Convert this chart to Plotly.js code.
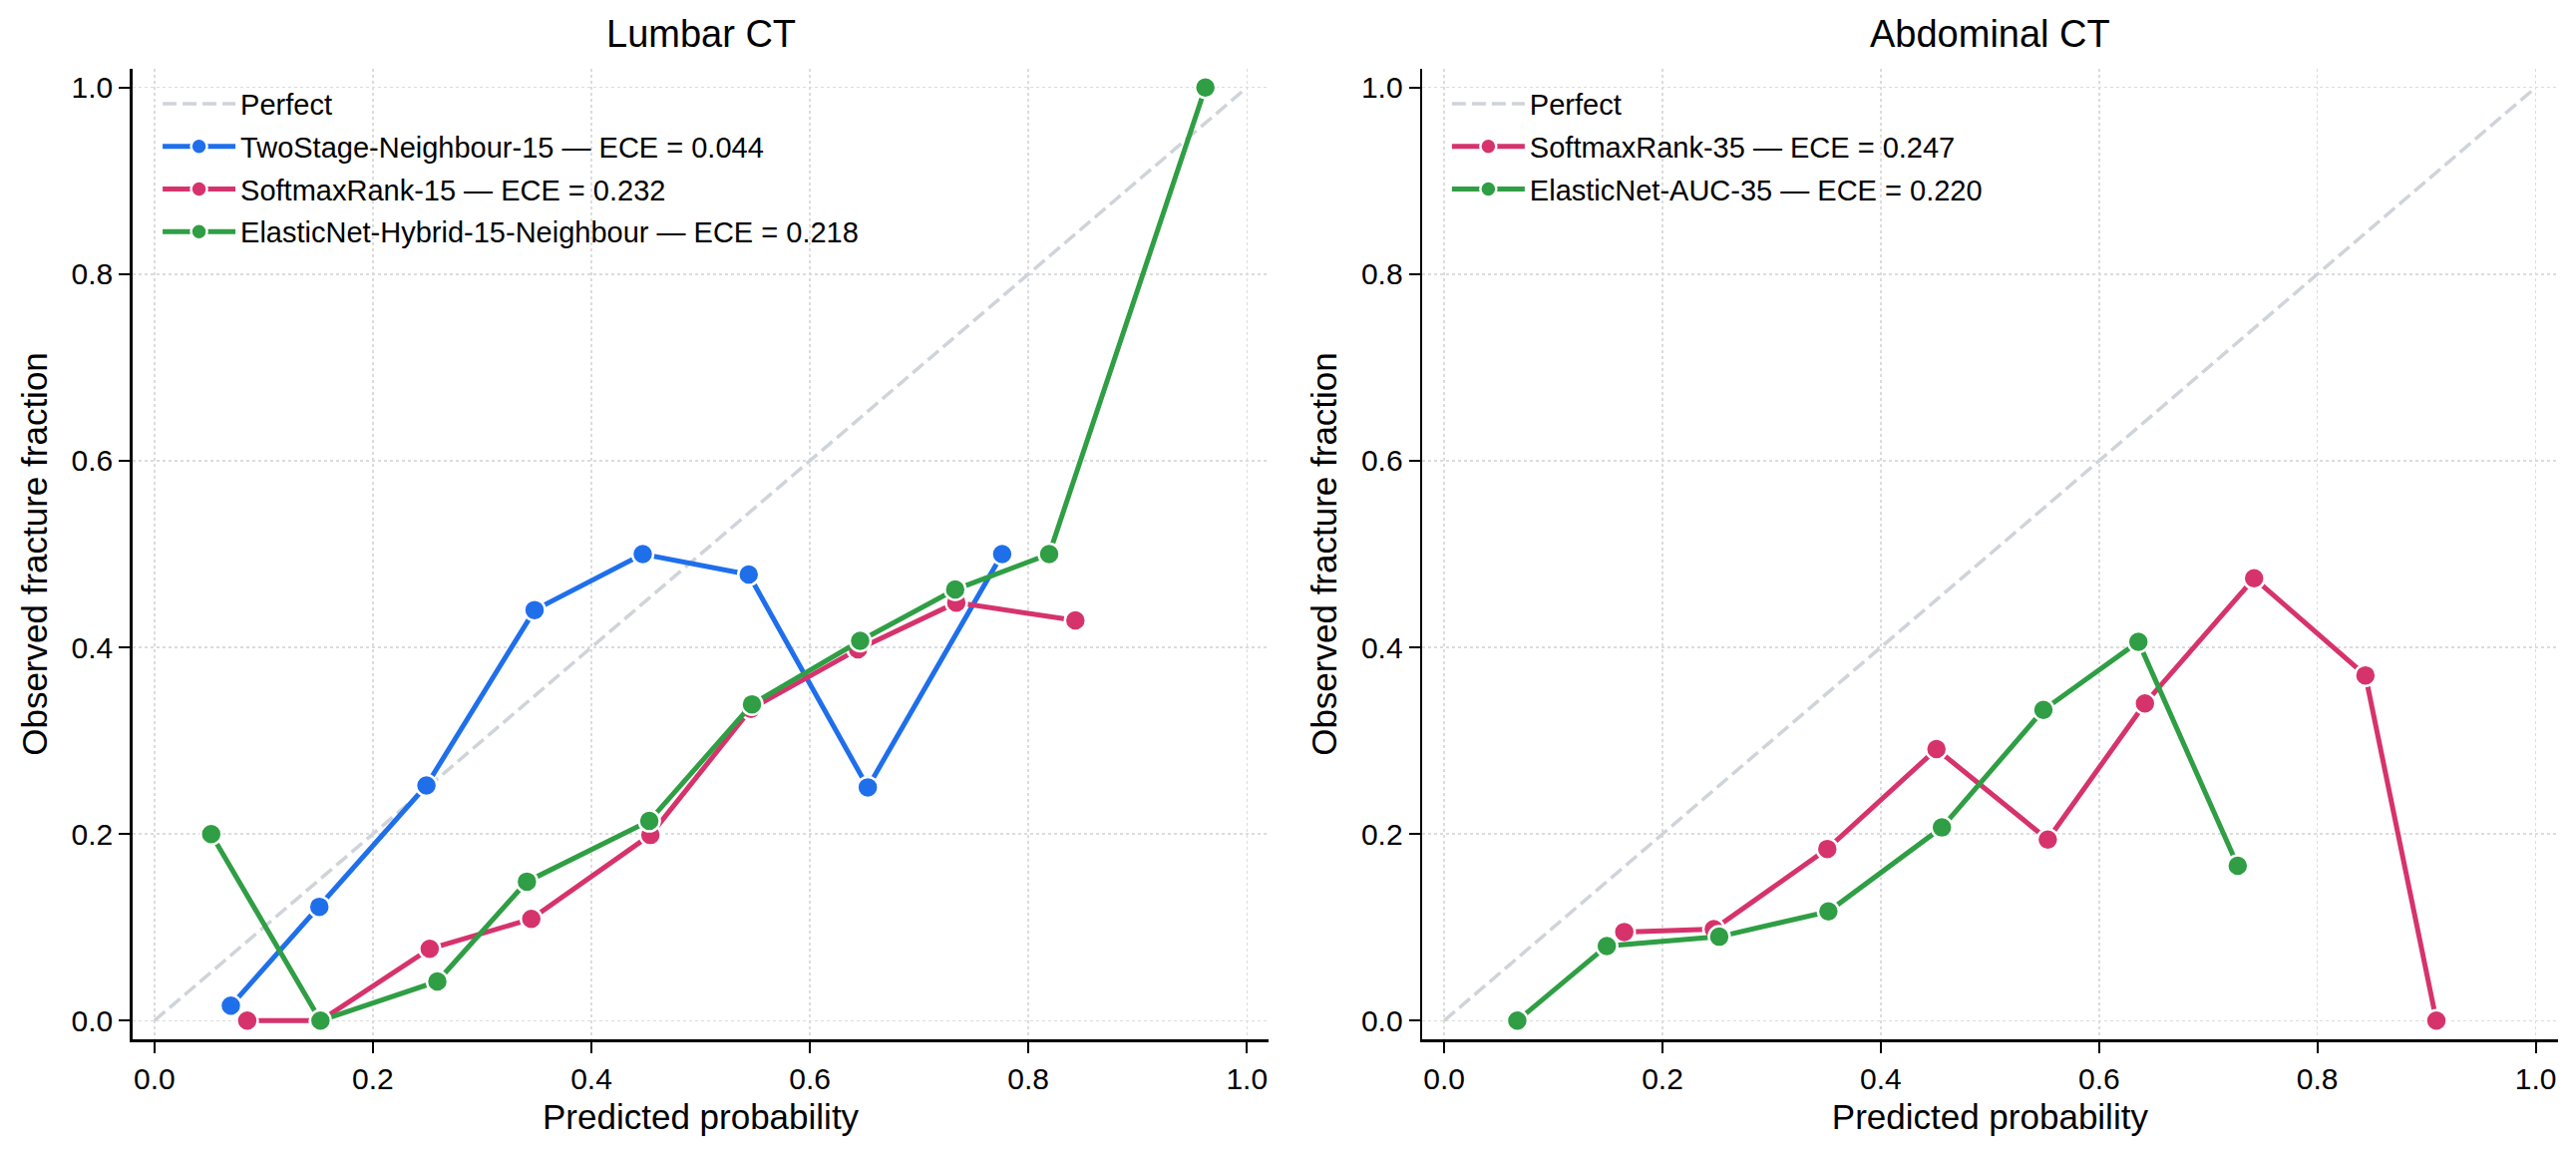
<!DOCTYPE html>
<html>
<head>
<meta charset="utf-8">
<script src="https://cdn.plot.ly/plotly-3.0.1.min.js"></script>
<style>
  html, body { margin: 0; padding: 0; background: #fff; }
  #chart { width: 2583px; height: 1161px; }
</style>
</head>
<body>
<div id="chart"></div>
<script>
// Lumbar CT bins
var twoStageX = [0.070, 0.151, 0.249, 0.348, 0.447, 0.544, 0.653, 0.776];
var twoStageY = [0.016, 0.122, 0.252, 0.440, 0.500, 0.478, 0.250, 0.500];
var softmax15X = [0.085, 0.152, 0.252, 0.345, 0.454, 0.546, 0.644, 0.734, 0.843];
var softmax15Y = [0.000, 0.000, 0.077, 0.109, 0.199, 0.334, 0.398, 0.448, 0.429];
var hybridX = [0.052, 0.152, 0.259, 0.341, 0.453, 0.547, 0.646, 0.733, 0.819, 0.962];
var hybridY = [0.200, 0.000, 0.042, 0.149, 0.214, 0.339, 0.407, 0.462, 0.500, 1.000];

// Abdominal CT bins
var softmax35X = [0.165, 0.247, 0.351, 0.451, 0.553, 0.642, 0.742, 0.844, 0.909];
var softmax35Y = [0.095, 0.098, 0.184, 0.291, 0.194, 0.340, 0.474, 0.370, 0.000];
var aucX = [0.067, 0.149, 0.252, 0.352, 0.456, 0.549, 0.636, 0.727];
var aucY = [0.000, 0.080, 0.090, 0.117, 0.207, 0.333, 0.406, 0.166];

var perfect = [0, 1];
var ticks = [0, 0.2, 0.4, 0.6, 0.8, 1.0];

var BLUE = '#1f6feb';
var RED = '#d6336c';
var GREEN = '#2f9e44';
var GREY = '#cfd4da';
var FONT = 'Liberation Sans, Arial, Helvetica, sans-serif';

function curve(x, y, name, color, xa, ya, leg) {
  return {
    x: x, y: y, name: name, type: 'scatter', mode: 'lines+markers',
    xaxis: xa, yaxis: ya, legend: leg, legendgroup: name,
    line: {color: color, width: 5},
    marker: {color: color, size: 21, line: {color: '#fff', width: 2.5}}
  };
}

function diag(xa, ya, leg) {
  return {
    x: perfect, y: perfect, name: 'Perfect', type: 'scatter', mode: 'lines',
    xaxis: xa, yaxis: ya, legend: leg, legendgroup: 'perfect' + leg,
    line: {color: GREY, width: 3.5, dash: '14px,6px'}
  };
}

var data = [
  diag('x', 'y', 'legend'),
  curve(twoStageX, twoStageY, 'TwoStage-Neighbour-15 \u2014 ECE = 0.044', BLUE, 'x', 'y', 'legend'),
  curve(softmax15X, softmax15Y, 'SoftmaxRank-15 \u2014 ECE = 0.232', RED, 'x', 'y', 'legend'),
  curve(hybridX, hybridY, 'ElasticNet-Hybrid-15-Neighbour \u2014 ECE = 0.218', GREEN, 'x', 'y', 'legend'),
  diag('x2', 'y2', 'legend2'),
  curve(softmax35X, softmax35Y, 'SoftmaxRank-35 \u2014 ECE = 0.247', RED, 'x2', 'y2', 'legend2'),
  curve(aucX, aucY, 'ElasticNet-AUC-35 \u2014 ECE = 0.220', GREEN, 'x2', 'y2', 'legend2')
];

function axis(extra) {
  var a = {
    range: [-0.02, 1.02],
    tickvals: ticks,
    ticktext: ticks.map(function (v) { return v.toFixed(1); }),
    ticks: 'outside', ticklen: 11, tickwidth: 2.2, tickcolor: '#000',
    tickfont: {size: 30, color: '#000'},
    showline: true, linecolor: '#000', linewidth: 2.6, mirror: false,
    showgrid: true, gridcolor: '#dcdcdc', gridwidth: 1.5, griddash: 'dot',
    zeroline: false, automargin: false
  };
  for (var k in extra) a[k] = extra[k];
  return a;
}

function legendAt(x) {
  return {
    x: x, xanchor: 'left', y: 0.99, yanchor: 'top',
    bgcolor: 'rgba(0,0,0,0)', borderwidth: 0,
    font: {family: FONT, size: 29, color: '#000'},
    itemwidth: 73, traceorder: 'grouped', tracegroupgap: 2,
    itemsizing: 'trace'
  };
}

var layout = {
  width: 2583, height: 1161,
  margin: {l: 0, r: 0, t: 69, b: 119},
  paper_bgcolor: '#fff', plot_bgcolor: '#fff',
  font: {family: FONT, color: '#000'},
  showlegend: true,
  xaxis: axis({domain: [0.05145, 0.49253], anchor: 'y',
    title: {text: 'Predicted probability', font: {size: 35}, standoff: 11}}),
  yaxis: axis({domain: [0, 1], anchor: 'x',
    title: {text: 'Observed fracture fraction', font: {size: 35}, standoff: 14}}),
  xaxis2: axis({domain: [0.55215, 0.99284], anchor: 'y2',
    title: {text: 'Predicted probability', font: {size: 35}, standoff: 11}}),
  yaxis2: axis({domain: [0, 1], anchor: 'x2',
    title: {text: 'Observed fracture fraction', font: {size: 35}, standoff: 14}}),
  legend: legendAt(0.0612),
  legend2: legendAt(0.5617),
  annotations: [
    {text: 'Lumbar CT', xref: 'paper', yref: 'paper', x: 0.27199, y: 1.0363,
     xanchor: 'center', yanchor: 'middle', showarrow: false, font: {size: 38}},
    {text: 'Abdominal CT', xref: 'paper', yref: 'paper', x: 0.7725, y: 1.0363,
     xanchor: 'center', yanchor: 'middle', showarrow: false, font: {size: 38}}
  ]
};

Plotly.newPlot('chart', data, layout, {staticPlot: true});
</script>
</body>
</html>
